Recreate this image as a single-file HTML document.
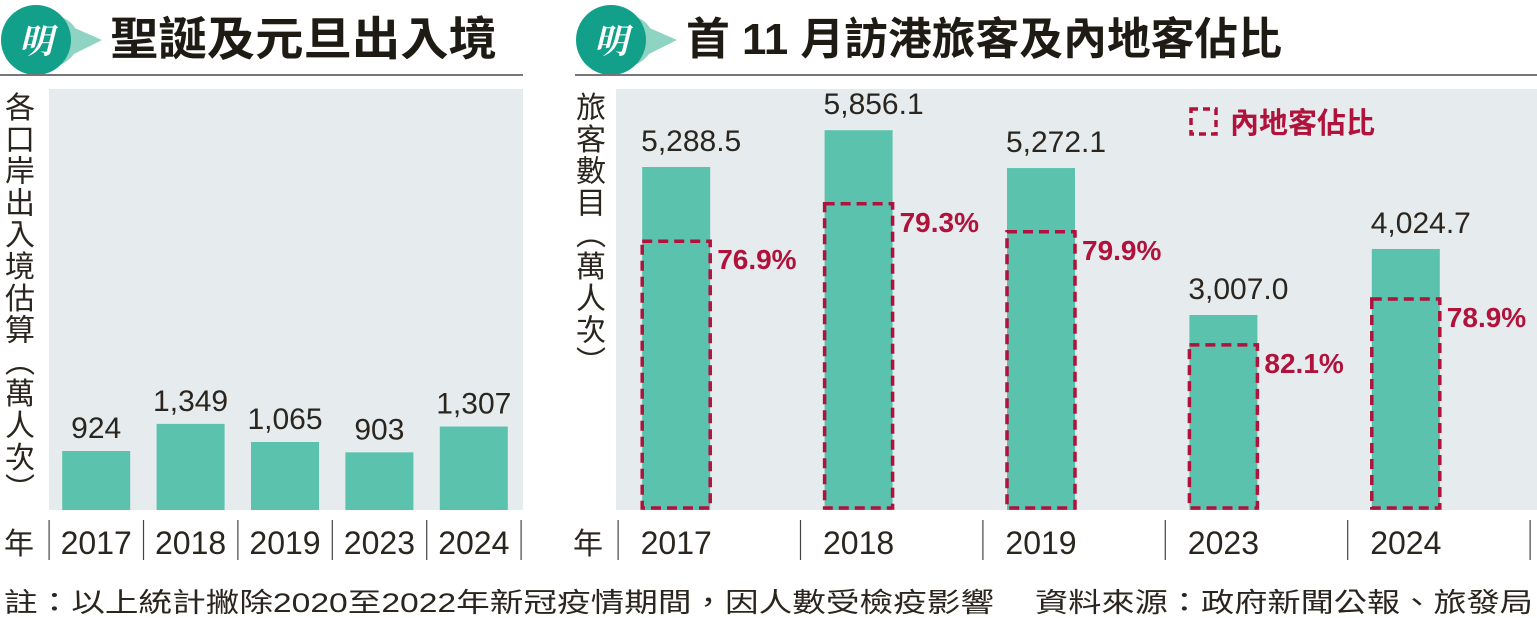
<!DOCTYPE html>
<html><head><meta charset="utf-8"><style>
body{margin:0;background:#fff;width:1537px;height:618px;overflow:hidden;font-family:"Liberation Sans","Noto Sans CJK TC",sans-serif}
svg{display:block}
</style></head><body>
<svg width="1537" height="618" xmlns="http://www.w3.org/2000/svg" id="root">
<g>
<path d="M52 14 Q78 20 78 40 Q78 60 52 68 L62 40 Z" fill="#8fd3c3"/>
<path d="M70 26 L102 40 L70 56 Z" fill="#8fd3c3"/>
<circle cx="36" cy="40" r="35" fill="#12a08a"/>
<text x="36" y="53" font-size="34" font-weight="bold" fill="#fff" text-anchor="middle" font-family="Noto Serif CJK SC,serif" font-style="italic">明</text>
<text x="110" y="55" font-size="46" font-weight="bold" fill="#1e1a14" font-family="Noto Sans CJK TC,sans-serif" textLength="387" lengthAdjust="spacingAndGlyphs">聖誕及元旦出入境</text>
<rect x="0" y="74" width="523" height="2" fill="#777"/>
</g>
<g>
<path d="M627 14 Q653 20 653 40 Q653 60 627 68 L637 40 Z" fill="#8fd3c3"/>
<path d="M645 26 L677 40 L645 56 Z" fill="#8fd3c3"/>
<circle cx="611" cy="40" r="35" fill="#12a08a"/>
<text x="611" y="53" font-size="34" font-weight="bold" fill="#fff" text-anchor="middle" font-family="Noto Serif CJK SC,serif" font-style="italic">明</text>
<text x="686" y="54" font-size="44" font-weight="bold" fill="#1e1a14" font-family="Liberation Sans,Noto Sans CJK TC,sans-serif" textLength="596" lengthAdjust="spacingAndGlyphs">首 11 月訪港旅客及內地客佔比</text>
<rect x="575" y="74" width="962" height="2" fill="#777"/>
</g>
<rect x="49" y="89" width="474" height="421" fill="#e6ebee"/>
<rect x="616" y="89" width="921" height="421" fill="#e6ebee"/>
<g id="left"></g><g id="right"></g><g id="titles"></g>
<text x="4" y="612" font-size="27" fill="#2a251e" font-family="Liberation Sans,Noto Sans CJK TC,sans-serif" textLength="990" lengthAdjust="spacingAndGlyphs">註：以上統計撇除2020至2022年新冠疫情期間，因人數受檢疫影響</text>
<text x="1035" y="612" font-size="27" fill="#2a251e" font-family="Noto Sans CJK TC,sans-serif" textLength="498" lengthAdjust="spacingAndGlyphs">資料來源：政府新聞公報、旅發局</text>
<g>
<rect x="1191" y="109" width="25" height="25" fill="none" stroke="#b0123b" stroke-width="3.5" stroke-dasharray="7,5"/>
<text x="1230" y="133" font-size="29" font-weight="bold" fill="#b0123b" font-family="Noto Sans CJK TC,sans-serif">內地客佔比</text>
</g>
</svg>
<script>
const leftYears=["2017","2018","2019","2023","2024"];
const leftValues=[924,1349,1065,903,1307];
const leftLabels=["924","1,349","1,065","903","1,307"];
const rightYears=["2017","2018","2019","2023","2024"];
const rightValues=[5288.5,5856.1,5272.1,3007.0,4024.7];
const rightLabels=["5,288.5","5,856.1","5,272.1","3,007.0","4,024.7"];
const mainlandShare=[76.9,79.3,79.9,82.1,78.9];
const NS="http://www.w3.org/2000/svg";
function mk(tag,attrs,parent,txt){const e=document.createElementNS(NS,tag);for(const k in attrs)e.setAttribute(k,attrs[k]);if(txt!==undefined)e.textContent=txt;parent.appendChild(e);return e;}
const base=510;
const numFont="Liberation Sans Narrow,Liberation Sans,sans-serif";
const L=document.getElementById('left');
const lx0=49,lstep=94.4,lscale=59/924;
function ly(v){return base-v*lscale;}
leftYears.forEach((y,i)=>{
 const cx=lx0+lstep*(i+0.5);
 const r=mk('rect',{x:cx-34,y:ly(leftValues[i]),width:68,height:base-ly(leftValues[i]),fill:'#5bc2ae'},L);
 
 
 const t=mk('text',{x:cx,y:ly(leftValues[i])-13,'font-size':30,'text-anchor':'middle',fill:'#2a251e','font-family':numFont},L,leftLabels[i]);
 
 
 const a=mk('text',{x:cx,y:554,'font-size':32,'text-anchor':'middle',fill:'#2a251e','font-family':numFont},L,y);
 
 
});
for(let i=0;i<=5;i++){const s=mk('rect',{x:lx0+lstep*i-0.5,y:520,width:1.2,height:40,fill:'#444'},L);
 
 }
const la=mk('text',{x:4,y:554,'font-size':30,fill:'#2a251e','font-family':'Noto Sans CJK TC,sans-serif'},L,'年');


const R=document.getElementById('right');
const rx0=618,rstep=182.4,rscale=343/5288.5;
function ry(v){return base-v*rscale;}
rightYears.forEach((y,i)=>{
 const cx=rx0+rstep*(i+0.5)-33;
 const r=mk('rect',{x:cx-34,y:ry(rightValues[i]),width:68,height:base-ry(rightValues[i]),fill:'#5bc2ae'},R);
 
 
 const t=mk('text',{x:cx+15,y:ry(rightValues[i])-16,'font-size':30,'text-anchor':'middle',fill:'#2a251e','font-family':numFont},R,rightLabels[i]);
 
 
 const mv=rightValues[i]*mainlandShare[i]/100;
 const top=ry(mv)-5;
 const d=mk('rect',{x:cx-34,y:top,width:68,height:base-2-top,fill:'none',stroke:'#b0123b','stroke-width':3.5,'stroke-dasharray':'10,6'},R);
 
 
 const p=mk('text',{x:cx+41,y:top+28,'font-size':28,'font-weight':'bold',fill:'#b0123b','font-family':numFont},R,mainlandShare[i].toFixed(1)+'%');
 
 
 const a=mk('text',{x:cx,y:554,'font-size':32,'text-anchor':'middle',fill:'#2a251e','font-family':numFont},R,y);
 
 
});
for(let i=0;i<=5;i++){const s=mk('rect',{x:rx0+rstep*i-0.5,y:520,width:1.2,height:40,fill:'#444'},R);
 
 }
const ra=mk('text',{x:573,y:554,'font-size':30,fill:'#2a251e','font-family':'Noto Sans CJK TC,sans-serif'},R,'年');


const T=document.getElementById('titles');
const lt="各口岸出入境估算︵萬人次︶";
const g1=mk('g',{},T);


[...lt].forEach((c,i)=>mk('text',{x:20,y:118+i*31.8,'font-size':30,'text-anchor':'middle',fill:'#2a251e','font-family':'Noto Sans CJK TC,sans-serif'},g1,c));
const rt="旅客數目︵萬人次︶";
const g2=mk('g',{},T);


[...rt].forEach((c,i)=>mk('text',{x:591,y:118+i*31.8,'font-size':30,'text-anchor':'middle',fill:'#2a251e','font-family':'Noto Sans CJK TC,sans-serif'},g2,c));
</script>
</body></html>
